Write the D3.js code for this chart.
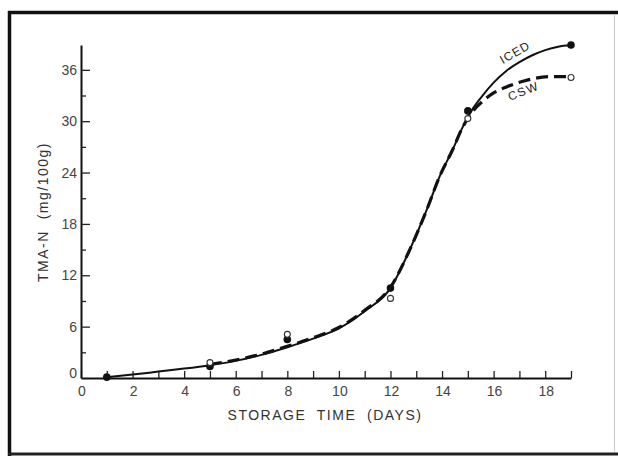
<!DOCTYPE html>
<html><head><meta charset="utf-8">
<script src="https://cdn.jsdelivr.net/npm/d3@7"></script>
<style>body{margin:0;background:#fff}svg{display:block}</style>
</head><body>
<svg id="c" width="618" height="456"></svg>
<script>
// Measured data points
const icedDays = [1, 5, 8, 12, 15, 19];
const icedValues = [0.1, 1.35, 4.5, 10.5, 31.2, 38.9];
const cswDays = [5, 8, 12, 15, 19];
const cswValues = [1.8, 5.1, 9.3, 30.3, 35.1];
// Fitted curves
const icedCurveDays = [1, 2, 3, 4, 5, 6, 7, 8, 9, 10, 11, 12, 12.75, 13.4, 13.9, 14.4, 14.8, 15.2, 15.6, 16, 16.5, 17, 17.5, 18, 18.5, 19];
const icedCurveValues = [0.1, 0.4, 0.75, 1.1, 1.5, 2.0, 2.7, 3.6, 4.6, 5.8, 7.8, 10.5, 15, 19.6, 23.5, 26.6, 29.3, 31.5, 33.1, 34.5, 35.9, 36.9, 37.7, 38.3, 38.7, 38.9];
const cswCurveDays = [5, 6, 7, 8, 9, 10, 11, 12, 12.75, 13.4, 13.9, 14.4, 14.8, 15.2, 15.6, 16, 16.5, 17.3, 18.2, 19];
const cswCurveValues = [1.6, 2.1, 2.8, 3.7, 4.7, 5.9, 7.9, 10.6, 15, 19.6, 23.5, 26.6, 29.3, 31.2, 32.4, 33.3, 34.0, 34.8, 35.2, 35.2];
const xTickLabels = [0, 2, 4, 6, 8, 10, 12, 14, 16, 18];
const yTickLabels = [0, 6, 12, 18, 24, 30, 36];
const xTitle = "STORAGE  TIME  (DAYS)";
const yTitle = "TMA-N  (mg/100g)";

const svg = d3.select("#c");
const x = d3.scaleLinear().domain([0, 19]).range([81, 571]);
const y = d3.scaleLinear().domain([0, 38.9]).range([378, 45]);

// frame
const fr = svg.append("g");
fr.append("line").attr("x1", 8).attr("x2", 618).attr("y1", 12.5).attr("y2", 12.5).attr("stroke", "#111").attr("stroke-width", 3.5);
fr.append("line").attr("x1", 9.5).attr("x2", 9.5).attr("y1", 11).attr("y2", 456).attr("stroke", "#111").attr("stroke-width", 3.5);
fr.append("line").attr("x1", 8).attr("x2", 618).attr("y1", 454).attr("y2", 454).attr("stroke", "#222").attr("stroke-width", 3);
fr.append("line").attr("x1", 614.5).attr("x2", 614.5).attr("y1", 14).attr("y2", 452).attr("stroke", "#ccc").attr("stroke-width", 1);

const font = "'Liberation Sans', Arial, sans-serif";

// x axis
const xAxis = d3.axisBottom(x).tickValues(d3.range(0, 20, 1)).tickSize(-7).tickFormat("").tickSizeOuter(0);
const gx = svg.append("g").attr("transform", "translate(0,378)").call(xAxis);
gx.select(".domain").attr("stroke", "#111").attr("stroke-width", 2);
gx.selectAll(".tick line").attr("stroke", "#222").attr("stroke-width", 1.3);
svg.append("g").selectAll("text").data(xTickLabels).join("text")
  .attr("x", d => x(d) + 1).attr("y", 396).attr("text-anchor", "middle")
  .attr("font-family", font).attr("font-size", 14).attr("fill", "#444").text(d => d);

// y axis
const yAxis = d3.axisLeft(y).tickValues(d3.range(3, 39, 3)).tickSize(-5).tickFormat("").tickSizeOuter(0);
const gy = svg.append("g").attr("transform", "translate(81,0)").call(yAxis);
gy.select(".domain").attr("stroke", "#111").attr("stroke-width", 2);
gy.selectAll(".tick line").attr("stroke", "#222").attr("stroke-width", 1.3)
  .attr("x2", d => d % 6 === 0 ? 9 : 5);
svg.append("g").selectAll("text").data(yTickLabels).join("text")
  .attr("x", 77).attr("y", d => y(d) + (d === 0 ? 0 : 5)).attr("text-anchor", "end")
  .attr("font-family", font).attr("font-size", 14).attr("fill", "#444").text(d => d);

// titles
svg.append("text").attr("x", 325).attr("y", 420).attr("text-anchor", "middle")
  .attr("font-family", font).attr("font-size", 14).attr("letter-spacing", 1.5).attr("fill", "#333")
  .style("white-space", "pre").text(xTitle);
svg.append("text").attr("transform", "translate(48,212) rotate(-90)").attr("text-anchor", "middle")
  .attr("font-family", font).attr("font-size", 14).attr("letter-spacing", 1.5).attr("fill", "#333")
  .style("white-space", "pre").text(yTitle);

// curves
const line = d3.line().x(d => x(d[0])).y(d => y(d[1])).curve(d3.curveMonotoneX);
svg.append("path").datum(icedCurveDays.map((d, i) => [d, icedCurveValues[i]]))
  .attr("d", line).attr("fill", "none").attr("stroke", "#111").attr("stroke-width", 2);
svg.append("path").datum(cswCurveDays.map((d, i) => [d, cswCurveValues[i]]))
  .attr("d", line).attr("fill", "none").attr("stroke", "#111").attr("stroke-width", 3.2)
  .attr("stroke-dasharray", "12,6");

// points
svg.append("g").selectAll("circle").data(icedDays.map((d, i) => [d, icedValues[i]])).join("circle")
  .attr("cx", d => x(d[0])).attr("cy", d => y(d[1])).attr("r", 3.8).attr("fill", "#111");
svg.append("g").selectAll("circle").data(cswDays.map((d, i) => [d, cswValues[i]])).join("circle")
  .attr("cx", d => x(d[0])).attr("cy", d => y(d[1])).attr("r", 3).attr("fill", "#fff")
  .attr("stroke", "#333").attr("stroke-width", 1.1);

// series labels
svg.append("text").attr("transform", "translate(517,56) rotate(-30)").attr("text-anchor", "middle")
  .attr("font-family", font).attr("font-size", 12).attr("letter-spacing", 1).attr("fill", "#222").text("ICED");
svg.append("text").attr("transform", "translate(525,95) rotate(-22)").attr("text-anchor", "middle")
  .attr("font-family", font).attr("font-size", 12).attr("letter-spacing", 1.5).attr("fill", "#222").text("CSW");
</script>
</body></html>
